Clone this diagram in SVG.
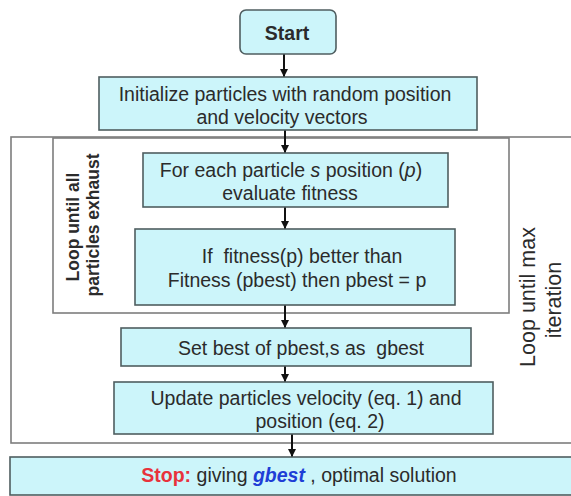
<svg xmlns="http://www.w3.org/2000/svg" width="571" height="496" viewBox="0 0 571 496">
  <style>
    .box { fill: #ccf5fa; stroke: #4f5e60; stroke-width: 1.6; }
    .loop { fill: none; stroke: #7d7d7d; stroke-width: 1.6; }
    .t { font-family: "Liberation Sans", Arial, sans-serif; font-size: 19.5px; fill: #2b2b2b; text-anchor: middle; white-space: pre; }
    .b { font-weight: bold; }
    .side { font-family: "Liberation Sans", Arial, sans-serif; fill: #2b2b2b; text-anchor: middle; }
    .edge { stroke: #111; stroke-width: 2; fill: none; marker-end: url(#head); }
  </style>
  <defs>
    <marker id="head" viewBox="0 0 8 8" refX="8" refY="4" markerWidth="4" markerHeight="4" orient="auto" markerUnits="strokeWidth">
      <path d="M0,0 L8,4 L0,8 Z" fill="#111"/>
    </marker>
  </defs>
  <rect width="571" height="496" fill="#ffffff"/>

  <!-- loop frames -->
  <g id="outer-loop">
    <rect class="loop" x="11" y="137" width="580" height="306"/>
    <text class="side" font-size="21.5" transform="translate(535,297) rotate(-90)">Loop until max</text>
    <text class="side" font-size="21.5" transform="translate(561,300) rotate(-90)">iteration</text>
  </g>
  <g id="inner-loop">
    <rect class="loop" x="53" y="138" width="456" height="175"/>
    <text class="side b" font-size="17.5" transform="translate(79,227) rotate(-90)">Loop until all</text>
    <text class="side b" font-size="17.5" transform="translate(99,225) rotate(-90)">particles exhaust</text>
  </g>

  <!-- connectors -->
  <g id="connectors">
    <line class="edge" x1="284" y1="54" x2="284" y2="77"/>
    <line class="edge" x1="285" y1="130" x2="285" y2="153"/>
    <line class="edge" x1="285" y1="207" x2="285" y2="229"/>
    <line class="edge" x1="285" y1="305" x2="285" y2="328"/>
    <line class="edge" x1="285" y1="366" x2="285" y2="382"/>
    <line class="edge" x1="292" y1="434" x2="292" y2="457"/>
  </g>

  <g id="start">
    <rect class="box" x="240" y="10" width="96" height="44" rx="6"/>
    <text class="t b" x="287" y="40">Start</text>
  </g>
  <g id="init">
    <rect class="box" x="99" y="77" width="378" height="53"/>
    <text class="t" x="285" y="101">Initialize particles with random position</text>
    <text class="t" x="282" y="124">and velocity vectors</text>
  </g>
  <g id="evaluate">
    <rect class="box" x="143" y="153" width="305" height="54"/>
    <text class="t" x="291" y="177">For each particle <tspan font-style="italic">s</tspan> position (<tspan font-style="italic">p</tspan>)</text>
    <text class="t" x="290" y="200">evaluate fitness</text>
  </g>
  <g id="compare">
    <rect class="box" x="135" y="229" width="320" height="76"/>
    <text class="t" x="302" y="263">If  fitness(p) better than</text>
    <text class="t" x="297" y="287">Fitness (pbest) then pbest = p</text>
  </g>
  <g id="set-gbest">
    <rect class="box" x="121" y="328" width="350" height="38"/>
    <text class="t" x="301" y="355">Set best of pbest,s as  gbest</text>
  </g>
  <g id="update">
    <rect class="box" x="114" y="382" width="379" height="52"/>
    <text class="t" x="306" y="405">Update particles velocity (eq. 1) and</text>
    <text class="t" x="320" y="428">position (eq. 2)</text>
  </g>
  <g id="stop">
    <rect class="box" x="10" y="457" width="580" height="38"/>
    <text class="t" x="299" y="482"><tspan font-weight="bold" fill="#e8323c">Stop:</tspan> giving <tspan font-weight="bold" font-style="italic" fill="#1e3ed6">gbest</tspan> , optimal solution</text>
  </g>
</svg>
